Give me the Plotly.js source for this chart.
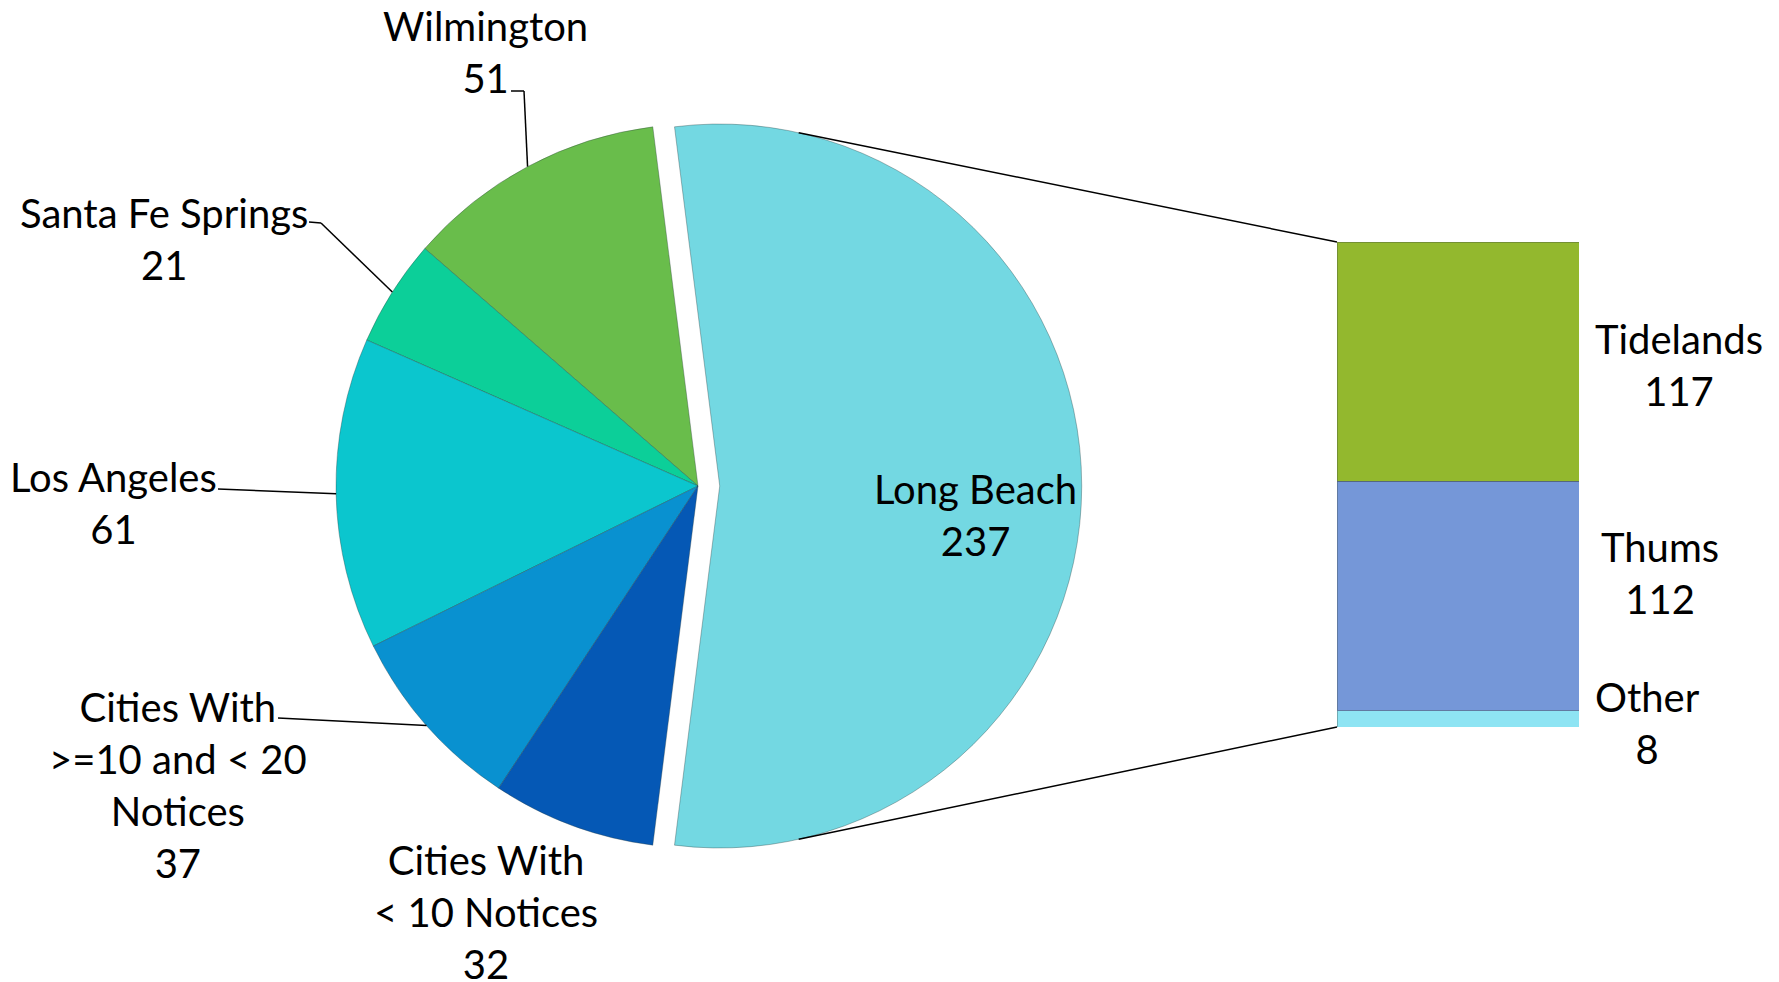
<!DOCTYPE html>
<html><head><meta charset="utf-8">
<script src="https://cdn.plot.ly/plotly-3.0.1.min.js"></script>
<style>html,body{margin:0;padding:0;background:#fff}#chart{width:1779px;height:982px}</style>
</head><body><div id="chart"></div>
<script>
// ---- data ----
const pieLabels = ['Wilmington', 'Santa Fe Springs', 'Los Angeles', 'Cities With >=10 and < 20 Notices', 'Cities With < 10 Notices', 'Long Beach'];
const pieLabelText = ['Wilmington', 'Santa Fe Springs', 'Los Angeles', 'Cities With<br>&gt;=10 and &lt; 20<br>Notices', 'Cities With<br>&lt; 10 Notices', 'Long Beach'];
const pieValues = [51, 21, 61, 37, 32, 237];
const barLabels = ['Other', 'Thums', 'Tidelands'];
const barValues = [8, 112, 117];

// ---- styles / layout constants ----
const pieColors = ['#69bd4b', '#0ccf99', '#0bc6ce', '#0991d0', '#0558b5', '#73d8e2'];
const barColors = ['#8ee4f3', '#7597d8', '#93b82e'];
const W = 1779, H = 982;
const PX = x => x / W, PY = y => 1 - y / H;
const cx = 698, cy = 486, R = 362, PULL = 0.06;
const half = R * (1 + PULL);
const barBox = {l: 1337, r: 1579, t: 242, b: 727};
const FONT = {family: 'Lato, "Open Sans", sans-serif', size: 40, color: '#000'};

const total = pieValues.reduce((a, b) => a + b, 0);
const lbIdx = pieValues.length - 1;
const lbHalfDeg = pieValues[lbIdx] / total * 180;
// Long Beach centered on +x; other slices continue counterclockwise from its top edge
const startMath = lbHalfDeg;
const firstDeg = pieValues[0] / total * 360;
// plotly (counterclockwise): first slice spans from rotation+size (cw from top) back to rotation
const rotation = (90 - startMath) - firstDeg;

// bisector angles of each slice (math degrees)
const bis = [];
let acc = startMath;
pieValues.forEach(v => { const d = v / total * 360; bis.push(acc + d / 2); acc += d; });
const arcPt = (i) => {
  const a = bis[i] * Math.PI / 180;
  return [cx + R * Math.cos(a), cy - R * Math.sin(a)];
};

const pie = {
  type: 'pie', labels: pieLabels, values: pieValues, sort: false, direction: 'counterclockwise',
  rotation: rotation, pull: pieValues.map((v, i) => i === lbIdx ? PULL : 0),
  marker: {colors: pieColors, line: {color: 'rgba(40,60,60,0.35)', width: 1}},
  textinfo: 'none', hoverinfo: 'none', showlegend: false,
  domain: {x: [PX(cx - half), PX(cx + half)], y: [PY(cy + half), PY(cy - half)]}
};

const bars = barLabels.map((lab, i) => ({
  type: 'bar', x: ['Long Beach'], y: [barValues[i]], name: lab, width: 1,
  marker: {color: barColors[i], line: {color: 'rgba(60,70,60,0.35)', width: 1}},
  xaxis: 'x', yaxis: 'y', hoverinfo: 'none', showlegend: false
}));

// labels
const lab = (text, x, y) => ({text, x: PX(x), y: PY(y), xref: 'paper', yref: 'paper', showarrow: false,
  xanchor: 'center', yanchor: 'middle', align: 'center', font: FONT});
const annotations = [
  lab(pieLabelText[0] + '<br>' + pieValues[0], 486, 52),
  lab(pieLabelText[1] + '<br>' + pieValues[1], 164, 239),
  lab(pieLabelText[2] + '<br>' + pieValues[2], 113, 503),
  lab(pieLabelText[3] + '<br>' + pieValues[3], 178, 785),
  lab(pieLabelText[4] + '<br>' + pieValues[4], 486, 912),
  lab(pieLabelText[5] + '<br>' + pieValues[5], 975, 515),
  lab(barLabels[2] + '<br>' + barValues[2], 1679, 365),
  lab(barLabels[1] + '<br>' + barValues[1], 1660, 573),
  lab(barLabels[0] + '<br>' + barValues[0], 1647, 723)
];

// leader lines
const seg = (x0, y0, x1, y1) => ({type: 'line', xref: 'paper', yref: 'paper',
  x0: PX(x0), y0: PY(y0), x1: PX(x1), y1: PY(y1), line: {color: '#000', width: 1.5}});
const shapes = [];
let p = arcPt(0); shapes.push(seg(511, 91, 524, 91), seg(524, 91, p[0], p[1]));
p = arcPt(1); shapes.push(seg(309, 222, 321, 223), seg(321, 223, p[0], p[1]));
p = arcPt(2); shapes.push(seg(218, 489, p[0], p[1]));
p = arcPt(3); shapes.push(seg(278, 718, p[0], p[1]));
// connectors from exploded slice to bar
const ecx = cx + R * PULL, ca = 77.4 * Math.PI / 180;
shapes.push(seg(ecx + R * Math.cos(ca), cy - R * Math.sin(ca), barBox.l, barBox.t));
shapes.push(seg(ecx + R * Math.cos(ca), cy + R * Math.sin(ca), barBox.l, barBox.b));

const layout = {
  width: W, height: H, margin: {l: 0, r: 0, t: 0, b: 0},
  paper_bgcolor: '#fff', plot_bgcolor: 'rgba(0,0,0,0)',
  barmode: 'stack', bargap: 0, showlegend: false,
  xaxis: {domain: [PX(barBox.l), PX(barBox.r)], range: [-0.5, 0.5], visible: false, fixedrange: true},
  yaxis: {domain: [PY(barBox.b), PY(barBox.t)], range: [0, barValues.reduce((a, b) => a + b, 0)], visible: false, fixedrange: true},
  annotations, shapes
};
Plotly.newPlot('chart', [pie, ...bars], layout, {staticPlot: true, displayModeBar: false});
</script></body></html>
